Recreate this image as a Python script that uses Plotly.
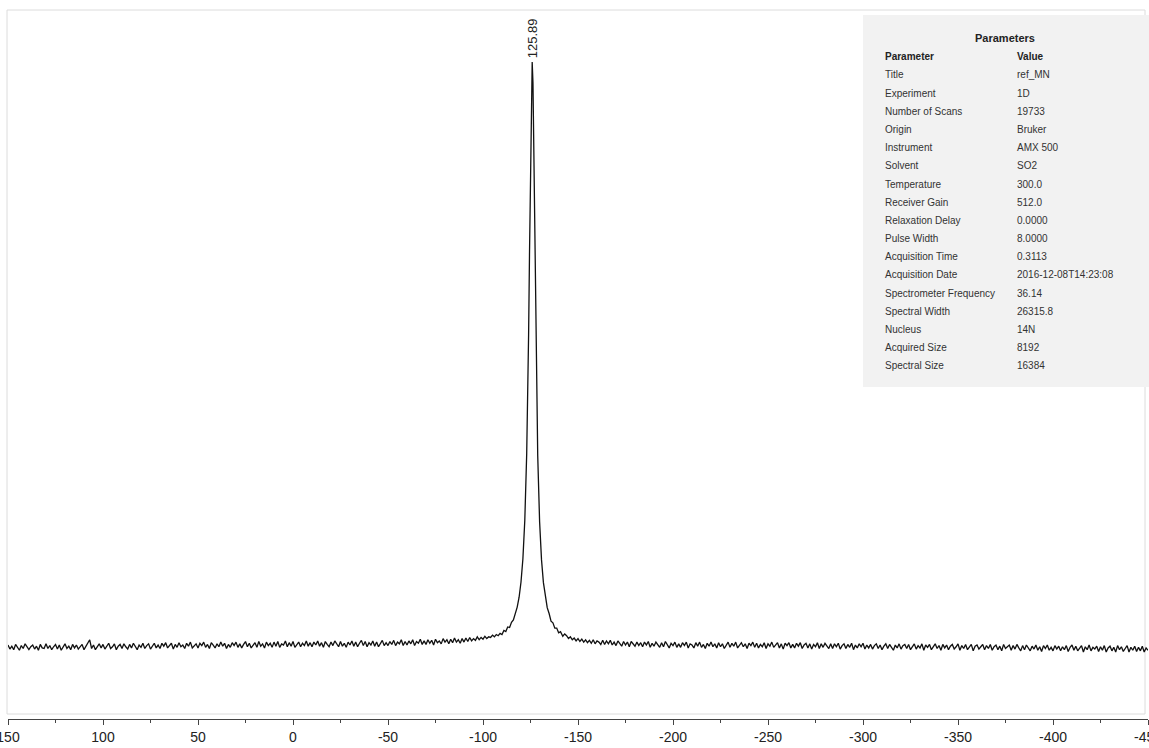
import numpy as np
import plotly.graph_objects as go

# ---------------- data ----------------
# chemical shift grid (ppm) of the left baseline segment: 150 .. -110, step 1
shift_left = np.arange(150, -111, -1)
intensity_left = [
    0.0, -0.7, -0.2, -0.8, 0.1, -0.5, -0.9, -0.1, -0.6, 0.2, -0.4, -0.8, -0.3, 0.0, -0.7, -0.2, -0.9, 0.1, -0.5, -0.6,
    0.2, -0.6, -0.1, -0.8, -0.3, 0.1, -0.7, 0.0, -0.9, -0.4, 0.2, -0.6, -0.2, -0.8, 0.1, -0.5, 0.0, -0.7, -0.3, 0.1,
    -0.8, -0.2, 0.3, 0.9, -0.6, 0.0, -0.8, -0.4, 0.2, -0.5, 0.1, -0.7, -0.1, 0.3, -0.6, -0.3, 0.2, -0.8, -0.2, 0.1,
    -0.6, 0.2, -0.3, -0.7, 0.1, -0.5, 0.3, -0.2, -0.8, 0.0, -0.4, 0.3, -0.6, -0.1, 0.2, -0.7, -0.3, 0.3, -0.5, 0.0,
    -0.6, 0.3, -0.2, 0.4, -0.5, -0.1, 0.3, -0.7, 0.1, -0.4, 0.4, -0.3, 0.0, -0.6, 0.3, -0.2, 0.5, -0.5, -0.1, 0.2,
    -0.5, 0.3, -0.1, 0.5, -0.4, 0.1, -0.6, 0.4, 0.0, -0.5, 0.2, -0.3, 0.5, -0.2, 0.3, -0.6, 0.1, -0.4, 0.4, -0.1,
    0.5, -0.4, 0.2, -0.5, 0.1, 0.6, -0.3, 0.3, -0.5, 0.0, 0.4, -0.4, 0.6, -0.2, 0.2, -0.5, 0.5, -0.1, 0.3, -0.4,
    0.5, -0.2, 0.6, -0.4, 0.2, 0.0, 0.7, -0.3, 0.4, -0.2, 0.6, -0.4, 0.1, 0.5, -0.3, 0.3, -0.1, 0.7, -0.2, 0.4,
    -0.3, 0.5, 0.0, 0.7, -0.2, 0.4, -0.4, 0.6, 0.1, -0.3, 0.5, -0.1, 0.7, 0.2, -0.3, 0.6, -0.2, 0.3, -0.4, 0.5,
    0.0, 0.7, -0.2, 0.5, -0.3, 0.3, 0.8, -0.1, 0.6, -0.3, 0.4, 0.0, 0.7, -0.2, 0.5, -0.3, 0.2, 0.8, -0.1, 0.4,
    -0.1, 0.6, 0.1, 0.8, -0.1, 0.5, 0.2, 0.9, -0.1, 0.6, 0.0, 0.7, 0.2, 0.9, -0.1, 0.6, 0.3, 1.0, 0.1, 0.7,
    0.1, 0.9, 0.3, 0.8, 0.0, 1.0, 0.4, 0.7, 0.2, 1.1, 0.5, 0.9, 0.2, 1.0, 0.4, 1.2, 0.5, 0.9, 0.3, 1.1,
    0.5, 1.2, 0.6, 1.3, 0.7, 1.1, 0.8, 1.4, 0.9, 1.3, 1.0, 1.5, 1.1, 1.4, 1.3, 1.7, 1.4, 1.8, 1.6, 2.0, 1.8,
]

# the peak itself
shift_peak = [
    -111, -112, -113, -114, -115, -116, -117, -118, -119, -120,
    -121, -122, -123, -123.5, -124, -124.5, -125, -125.5, -125.89,
    -126.3, -126.8, -127.3, -127.8, -128.3, -128.8, -129.8, -130.8,
    -131.8, -132.8, -133.8, -134.8, -135.8, -136.8, -137.8, -138.8,
    -139.8, -140.8, -142, -143,
]
intensity_peak = [
    2.5, 2.3, 3.1, 3.0, 3.9, 4.3, 5.5, 6.5, 8.2, 10.8,
    14.8, 21.4, 32.8, 41.6, 53.2, 67.8, 83.9, 96.7, 100.0,
    96.4, 83.2, 67.2, 52.7, 41.2, 32.5, 21.1, 14.6,
    10.7, 8.1, 6.4, 5.4, 4.1, 3.8, 2.9, 2.9,
    2.1, 2.3, 1.5, 1.9,
]

# right baseline segment: -144 .. -450, step 1
shift_right = np.arange(-144, -451, -1)
intensity_right = [
    1.6, 1.1, 1.4, 0.9, 1.2, 0.7, 1.1, 0.6, 1.0, 0.5, 0.9, 0.4, 0.8, 0.3, 0.9, 0.2, 0.7, 0.5, 0.1, 0.8,
    0.1, 0.7, 0.2, 0.8, 0.0, 0.5, -0.1, 0.7, 0.3, -0.2, 0.6, 0.0, 0.5, -0.3, 0.6, 0.1, -0.2, 0.5, -0.1, 0.4,
    -0.3, 0.5, 0.0, 0.6, -0.4, 0.3, -0.2, 0.5, 0.1, -0.4, 0.4, -0.3, 0.6, 0.0, -0.5, 0.3, -0.1, 0.5, -0.4, 0.2,
    -0.4, 0.4, -0.1, 0.5, -0.5, 0.2, 0.0, -0.5, 0.4, -0.2, 0.5, -0.4, 0.1, -0.6, 0.3, -0.2, 0.5, -0.3, 0.2, -0.5,
    0.4, -0.3, 0.2, -0.6, 0.1, 0.5, -0.4, 0.3, -0.2, 0.5, -0.5, 0.0, 0.4, -0.3, 0.2, -0.6, 0.3, -0.1, 0.5, -0.4,
    0.3, -0.5, 0.1, -0.3, 0.4, -0.6, 0.2, -0.2, 0.5, -0.4, 0.0, 0.4, -0.5, 0.2, -0.7, 0.3, -0.1, 0.4, -0.5, 0.1,
    -0.5, 0.3, -0.2, 0.4, -0.6, 0.0, 0.3, -0.5, 0.2, -0.7, 0.1, -0.3, 0.4, -0.6, 0.2, -0.4, 0.3, -0.1, -0.6, 0.2,
    -0.6, 0.2, -0.3, 0.3, -0.7, -0.1, 0.2, -0.6, 0.1, -0.4, 0.3, -0.8, 0.0, -0.5, 0.2, -0.3, 0.3, -0.7, 0.0, -0.5,
    0.1, -0.7, -0.1, 0.2, -0.6, 0.0, -0.8, -0.2, 0.2, -0.6, 0.1, -0.4, -0.9, 0.0, -0.5, 0.2, -0.7, -0.1, 0.1, -0.6,
    0.1, -0.8, -0.2, 0.2, -0.7, -0.1, -0.5, 0.2, -0.9, 0.0, -0.4, 0.1, -0.8, -0.2, 0.2, -0.6, -0.1, -0.9, 0.1, -0.5,
    0.0, -0.8, -0.2, 0.1, -0.7, -0.3, 0.2, -0.9, -0.1, -0.6, 0.1, -0.8, -0.4, 0.1, -1.0, -0.2, 0.0, -0.7, -0.3, 0.1,
    -0.8, -0.1, -0.6, 0.1, -0.9, -0.3, 0.0, -0.8, -0.2, -1.0, 0.1, -0.6, -0.3, 0.0, -0.9, -0.1, -0.7, 0.1, -0.5, -1.0,
    -0.1, -0.8, 0.0, -0.6, -1.0, -0.2, -0.7, 0.0, -0.9, -0.3, -1.1, -0.1, -0.6, 0.0, -0.9, -0.4, -1.0, -0.1, -0.7, -0.2,
    -1.0, -0.3, -0.8, -0.1, -1.1, -0.4, 0.0, -0.9, -0.2, -1.0, -0.5, -0.1, -1.2, -0.3, -0.8, 0.0, -1.0, -0.4, -0.7, -0.2,
    -1.1, -0.3, -0.9, -0.1, -1.2, -0.5, -0.2, -1.0, -0.4, -1.2, -0.1, -0.8, -0.3, -1.1, -0.6, -0.1, -1.2, -0.4, -0.9, -0.2,
    -1.1, -0.4, -1.0, -0.2, -1.2, -0.5, -0.9,
]

peak_shift = -125.89
peak_label = "125.89"

tick_values = [150, 100, 50, 0, -50, -100, -150, -200, -250, -300, -350, -400, -450]
tick_labels = ["150", "100", "50", "0", "-50", "-100", "-150", "-200", "-250",
               "-300", "-350", "-400", "-450"]

table_title = "Parameters"
table_header = ["Parameter", "Value"]
param_names = [
    "Title", "Experiment", "Number of Scans", "Origin", "Instrument",
    "Solvent", "Temperature", "Receiver Gain", "Relaxation Delay",
    "Pulse Width", "Acquisition Time", "Acquisition Date",
    "Spectrometer Frequency", "Spectral Width", "Nucleus",
    "Acquired Size", "Spectral Size",
]
param_values = [
    "ref_MN", "1D", "19733", "Bruker", "AMX 500", "SO2", "300.0",
    "512.0", "0.0000", "8.0000", "0.3113", "2016-12-08T14:23:08",
    "36.14", "26315.8", "14N", "8192", "16384",
]

# ---------------- layout geometry ----------------
W, H = 1149, 748
ML, MR, MT, MB = 8, 1, 10, 29
PW, PH = W - ML - MR, H - MT - MB


def px(x):
    return (x - ML) / PW


def py(y):
    return (H - MB - y) / PH


FONT = "Liberation Sans, Arial, Helvetica, sans-serif"

x_all = list(shift_left) + shift_peak + list(shift_right)
y_all = intensity_left + intensity_peak + intensity_right

fig = go.Figure()
fig.add_trace(go.Scatter(
    x=x_all, y=y_all, mode="lines",
    line=dict(color="#111111", width=1.3),
    hoverinfo="skip", showlegend=False,
))

shapes = [
    # light frame around the spectrum
    dict(type="rect", xref="paper", yref="paper",
         x0=px(7), x1=px(1145), y0=py(714), y1=py(10),
         line=dict(color="#dcdcdc", width=1), fillcolor="rgba(0,0,0,0)",
         layer="below"),
    # parameters table background
    dict(type="rect", xref="paper", yref="paper",
         x0=px(863), x1=px(1149), y0=py(387), y1=py(15),
         line=dict(width=0), fillcolor="#f2f2f2", layer="above"),
]

annotations = [
    dict(x=peak_shift, y=100, xref="x", yref="y", text=peak_label,
         textangle=-90, showarrow=False, xanchor="center", yanchor="bottom",
         yshift=2, font=dict(family=FONT, size=13, color="#222222")),
    dict(x=px(1005), y=py(38), xref="paper", yref="paper",
         text="<b>" + table_title + "</b>", showarrow=False,
         xanchor="center", yanchor="middle",
         font=dict(family=FONT, size=11, color="#222222")),
    dict(x=px(883), y=py(56.5), xref="paper", yref="paper",
         text="<b>" + table_header[0] + "</b>", showarrow=False,
         xanchor="left", yanchor="middle",
         font=dict(family=FONT, size=10, color="#222222")),
    dict(x=px(1015), y=py(56.5), xref="paper", yref="paper",
         text="<b>" + table_header[1] + "</b>", showarrow=False,
         xanchor="left", yanchor="middle",
         font=dict(family=FONT, size=10, color="#222222")),
]
row_y0, row_dy = 75.0, 18.17
for i, (name, val) in enumerate(zip(param_names, param_values)):
    yy = py(row_y0 + i * row_dy)
    annotations.append(dict(x=px(883), y=yy, xref="paper", yref="paper",
                            text=name, showarrow=False, xanchor="left",
                            yanchor="middle",
                            font=dict(family=FONT, size=10, color="#333333")))
    annotations.append(dict(x=px(1015), y=yy, xref="paper", yref="paper",
                            text=val, showarrow=False, xanchor="left",
                            yanchor="middle",
                            font=dict(family=FONT, size=10, color="#333333")))

fig.update_layout(
    width=W, height=H,
    margin=dict(l=ML, r=MR, t=MT, b=MB, pad=0, autoexpand=False),
    paper_bgcolor="white", plot_bgcolor="white",
    shapes=shapes, annotations=annotations,
    xaxis=dict(
        range=[150, -450], autorange=False, automargin=False,
        tickmode="array", tickvals=tick_values, ticktext=tick_labels,
        ticks="outside", ticklen=5, tickwidth=1,
        tickcolor="#444444", showline=True, linecolor="#444444", linewidth=1,
        showgrid=False, zeroline=False, ticklabeloverflow="allow",
        tickfont=dict(family=FONT, size=14, color="#222222"),
        minor=dict(tick0=0, dtick=25, ticks="outside", ticklen=3,
                   tickcolor="#444444", showgrid=False),
    ),
    yaxis=dict(range=[-12.69, 108.92], autorange=False, visible=False,
               automargin=False, showgrid=False, zeroline=False),
)

fig.write_html("out.html")
